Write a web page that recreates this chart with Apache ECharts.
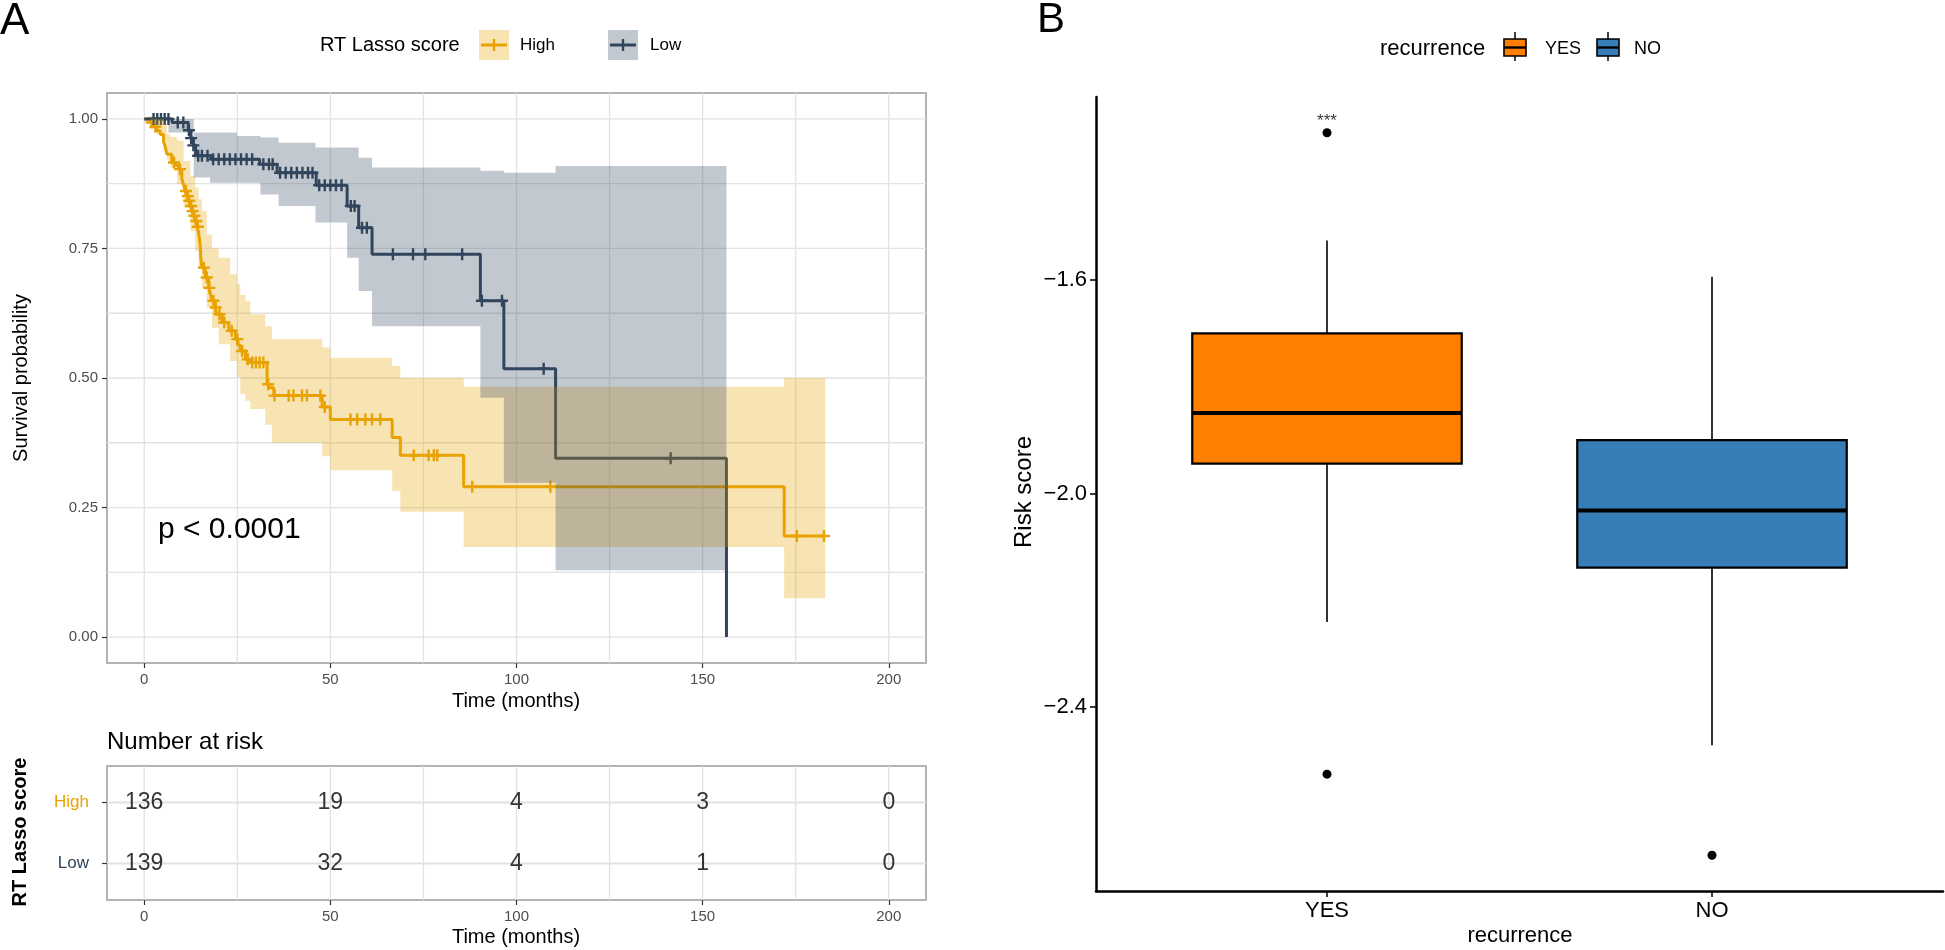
<!DOCTYPE html>
<html><head><meta charset="utf-8">
<script src="https://cdn.jsdelivr.net/npm/echarts@6/dist/echarts.min.js"></script>
<style>html,body{margin:0;padding:0;background:#fff}#c{width:1945px;height:950px}</style>
</head><body><div id="c"></div>
<script>
// ---------------- data ----------------
const timeTicks = [0, 50, 100, 150, 200];
const survTicks = [0, 0.25, 0.5, 0.75, 1];
const gridTimes = [0, 25, 50, 75, 100, 125, 150, 175, 200];
const gridSurv = [0, 0.125, 0.25, 0.375, 0.5, 0.625, 0.75, 0.875, 1];
const groupNames = ['High', 'Low'];

// Kaplan-Meier steps [time, survival]
const highCurve = [[0,1],[1.5,0.993],[2.5,0.985],[3.4,0.977],[4.3,0.970],[5.2,0.956],[5.7,0.945],[6.1,0.932],[7.4,0.916],[8.5,0.910],[9.2,0.903],[10.1,0.884],[10.6,0.872],[11.0,0.861],[11.5,0.851],[11.9,0.842],[12.4,0.832],[12.8,0.822],[13.3,0.813],[13.7,0.803],[14.2,0.792],[14.6,0.781],[15.0,0.758],[15.2,0.732],[15.5,0.713],[16.4,0.694],[17.3,0.674],[17.8,0.662],[18.2,0.649],[19.0,0.636],[19.5,0.623],[20.9,0.607],[22.7,0.591],[24.5,0.575],[25.2,0.563],[25.8,0.552],[27.2,0.536],[28.5,0.530],[33.0,0.488],[33.6,0.481],[34.8,0.466],[47.8,0.444],[50.0,0.420],[66.6,0.385],[68.8,0.351],[85.8,0.290],[171.9,0.195],[182.9,0.195]];
const lowCurve = [[0,1],[7.5,0.993],[11.8,0.978],[12.5,0.963],[13.2,0.949],[13.8,0.929],[18.0,0.922],[31.0,0.9125],[35.7,0.896],[46.2,0.872],[54.5,0.832],[57.6,0.790],[61.2,0.739],[90.3,0.649],[96.6,0.518],[110.5,0.345],[156.4,0]];

// censoring marks [time, survival]
const highCensor = [[2.0,0.993],[3.0,0.985],[8.0,0.916],[9.6,0.903],[11.2,0.861],[11.7,0.851],[12.1,0.842],[12.6,0.832],[13.0,0.822],[13.5,0.813],[14.0,0.803],[14.4,0.792],[16.0,0.713],[16.8,0.694],[17.5,0.674],[18.6,0.649],[19.2,0.636],[20.2,0.623],[21.5,0.607],[23.5,0.591],[25.0,0.575],[26.3,0.552],[27.8,0.536],[29.0,0.530],[30.0,0.530],[31.0,0.530],[32.0,0.530],[33.3,0.488],[35.0,0.466],[38.8,0.466],[40.1,0.466],[42.4,0.466],[43.7,0.466],[47.3,0.466],[48.5,0.444],[55.4,0.420],[57.2,0.420],[59.4,0.420],[61.2,0.420],[63.4,0.420],[72.4,0.351],[76.4,0.351],[77.8,0.351],[78.7,0.351],[88.1,0.290],[109.1,0.290],[175.3,0.195],[182.6,0.195]];
const lowCensor = [[2.5,1],[3.5,1],[4.5,1],[5.5,1],[6.5,1],[9.0,0.993],[10.5,0.993],[12.0,0.978],[12.6,0.963],[13.2,0.949],[14.5,0.929],[15.5,0.929],[17.0,0.929],[18.5,0.922],[20.0,0.922],[21.5,0.922],[23.0,0.922],[24.5,0.922],[26.0,0.922],[27.5,0.922],[29.0,0.922],[32.0,0.9125],[33.5,0.9125],[34.5,0.9125],[36.5,0.896],[38.0,0.896],[39.5,0.896],[41.0,0.896],[42.5,0.896],[44.0,0.896],[45.2,0.896],[47.0,0.872],[48.5,0.872],[50.0,0.872],[51.5,0.872],[53.0,0.872],[55.5,0.832],[56.5,0.832],[58.5,0.790],[59.8,0.790],[66.8,0.739],[72.2,0.739],[75.5,0.739],[85.4,0.739],[90.7,0.649],[96.1,0.649],[107.3,0.518],[141.4,0.345]];

// confidence bands [time, lower, upper] (step, last row = end)
const highBand = [[0,1,1],[1.6,0.985,1],[3.4,0.970,1],[5.2,0.938,0.99],[6.1,0.920,0.970],[7.0,0.906,0.965],[8.8,0.874,0.958],[10.6,0.829,0.919],[12.4,0.784,0.890],[13.7,0.745,0.867],[14.6,0.713,0.845],[15.5,0.674,0.822],[16.8,0.636,0.777],[18.2,0.597,0.750],[20.0,0.565,0.732],[23.1,0.533,0.700],[24.9,0.501,0.681],[25.8,0.469,0.660],[27.2,0.456,0.649],[28.5,0.440,0.623],[32.5,0.410,0.600],[34.3,0.375,0.575],[47.8,0.349,0.559],[50.0,0.322,0.539],[66.6,0.282,0.523],[68.8,0.242,0.500],[85.8,0.174,0.483],[171.9,0.075,0.500],[182.9,0.075,0.500]];
const lowBand = [[0,1,1],[6.5,0.974,1],[13.3,0.887,0.974],[17.7,0.877,0.974],[24.9,0.877,0.967],[31.2,0.854,0.964],[36.1,0.832,0.954],[46.0,0.800,0.945],[54.5,0.732,0.945],[57.6,0.668,0.925],[61.2,0.600,0.906],[90.3,0.462,0.900],[96.6,0.298,0.896],[110.5,0.129,0.909],[156.4,0.129,0.909]];

// number at risk
const riskTimes = [0, 50, 100, 150, 200];
const riskHigh = [136, 19, 4, 3, 0];
const riskLow = [139, 32, 4, 1, 0];
const riskRows = [1, 2]; // 1 = Low, 2 = High

// box plot (panel B)
const boxCats = ['YES', 'NO'];
const boxYes = [-2.241, -1.944, -1.849, -1.700, -1.526]; // min, Q1, median, Q3, max
const boxNo = [-2.472, -2.139, -2.032, -1.900, -1.594];
const outliers = [[1, -1.324], [1, -2.526], [2, -2.678]];
const signif = [[1, -1.302, '***']];
const riskScoreTicks = [-2.4, -2.0, -1.6];

// ---------------- style ----------------
const FONT = 'Liberation Sans, Arial, Helvetica, sans-serif';
const HIGH_C = '#E9A200';
const LOW_C = '#30455B';
const HIGH_FILL = 'rgba(232,162,2,0.3)';
const LOW_FILL = 'rgba(52,72,98,0.3)';
const BOX_C = ['#FF7F00', '#377EB8'];
const GRIDLINE = '#E2E2E2';
const PANEL_BORDER = '#B3B3B3';
const PLUS = 'path://M-1.2,-6H1.2V-1.2H6V1.2H1.2V6H-1.2V1.2H-6V-1.2H-1.2Z';

const bandData = { bandHigh: highBand, bandLow: lowBand };
function bandRender(color) {
  return function (params, api) {
    if (params.dataIndex !== 0) return null;
    const band = bandData[params.seriesName];
    const up = [], dn = [];
    for (let i = 0; i < band.length - 1; i++) {
      up.push(api.coord([band[i][0], band[i][2]]));
      up.push(api.coord([band[i + 1][0], band[i][2]]));
    }
    for (let i = band.length - 2; i >= 0; i--) {
      dn.push(api.coord([band[i + 1][0], band[i][1]]));
      dn.push(api.coord([band[i][0], band[i][1]]));
    }
    return { type: 'polygon', shape: { points: up.concat(dn) }, style: { fill: color } };
  };
}

function vLines(y0, y1, width) {
  return function (params, api) {
    const a = api.coord([api.value(0), y0]), b = api.coord([api.value(0), y1]);
    return { type: 'line', shape: { x1: a[0], y1: a[1], x2: b[0], y2: b[1] }, style: { stroke: GRIDLINE, lineWidth: width } };
  };
}
function hLines(x0, x1, width) {
  return function (params, api) {
    const a = api.coord([x0, api.value(1)]), b = api.coord([x1, api.value(1)]);
    return { type: 'line', shape: { x1: a[0], y1: a[1], x2: b[0], y2: b[1] }, style: { stroke: GRIDLINE, lineWidth: width } };
  };
}

function txt(text, x, y, size, opts) {
  opts = opts || {};
  return {
    type: 'text', x: x, y: y, rotation: opts.rot || 0, silent: true, z: 10,
    style: {
      text: text, fontSize: size, fontFamily: FONT, fill: opts.color || '#000',
      fontWeight: opts.bold ? 'bold' : 'normal',
      align: opts.align || 'left', textAlign: opts.align || 'left',
      verticalAlign: 'middle', textVerticalAlign: 'middle'
    }
  };
}

const chart = echarts.init(document.getElementById('c'), null, { renderer: 'canvas' });

const grids = [
  { left: 107, top: 93, width: 819, height: 570, show: true, borderColor: PANEL_BORDER, borderWidth: 2, backgroundColor: '#fff' },
  { left: 107, top: 766, width: 819, height: 134, show: true, borderColor: PANEL_BORDER, borderWidth: 2, backgroundColor: '#fff' },
  { left: 1096, top: 97, width: 847, height: 794, show: false }
];

const kmAxisX = (gi) => ({
  type: 'value', gridIndex: gi, min: -10, max: 210, position: 'bottom',
  axisLine: { show: false, onZero: false },
  axisTick: { show: true, customValues: timeTicks, length: 5, lineStyle: { color: '#333', width: 1.2 } },
  axisLabel: { customValues: timeTicks, fontSize: 15, color: '#4D4D4D', fontFamily: FONT, margin: 9 },
  splitLine: { show: false }
});

const option = {
  animation: false,
  textStyle: { fontFamily: FONT },
  grid: grids,
  xAxis: [
    kmAxisX(0),
    kmAxisX(1),
    {
      type: 'value', gridIndex: 2, min: 0.4, max: 2.6, position: 'bottom',
      axisLine: { show: true, onZero: false, lineStyle: { color: '#000', width: 2.5 } },
      axisTick: { show: true, customValues: [1, 2], length: 6, lineStyle: { color: '#000', width: 1.5 } },
      axisLabel: { customValues: [1, 2], formatter: v => boxCats[Math.round(v) - 1], fontSize: 22, color: '#000', fontFamily: FONT, margin: 9 },
      splitLine: { show: false }
    }
  ],
  yAxis: [
    {
      type: 'value', gridIndex: 0, min: -0.05, max: 1.05, position: 'left',
      axisLine: { show: false, onZero: false },
      axisTick: { show: true, customValues: survTicks, length: 5, lineStyle: { color: '#333', width: 1.2 } },
      axisLabel: { customValues: survTicks, formatter: v => Number(v).toFixed(2), fontSize: 15, color: '#4D4D4D', fontFamily: FONT, margin: 9 },
      splitLine: { show: false }
    },
    {
      type: 'value', gridIndex: 1, min: 0.4, max: 2.6, position: 'left',
      axisLine: { show: false, onZero: false },
      axisTick: { show: true, customValues: riskRows, length: 5, lineStyle: { color: '#333', width: 1.2 } },
      axisLabel: {
        customValues: riskRows, fontSize: 17, fontFamily: FONT, margin: 18,
        formatter: v => (Math.round(v) === 2 ? '{h|' + groupNames[0] + '}' : '{l|' + groupNames[1] + '}'),
        rich: { h: { color: HIGH_C, fontSize: 17, fontFamily: FONT }, l: { color: LOW_C, fontSize: 17, fontFamily: FONT } }
      },
      splitLine: { show: false }
    },
    {
      type: 'value', gridIndex: 2, min: -2.745, max: -1.257, position: 'left',
      axisLine: { show: true, onZero: false, lineStyle: { color: '#000', width: 2.5 } },
      axisTick: { show: true, customValues: riskScoreTicks, length: 6, lineStyle: { color: '#000', width: 1.5 } },
      axisLabel: { customValues: riskScoreTicks, formatter: v => Number(v).toFixed(1).replace('-', '\u2212'), fontSize: 22, color: '#000', fontFamily: FONT, margin: 9 },
      splitLine: { show: false }
    }
  ],
  series: [
    // panel A gridlines
    { type: 'custom', name: 'gx', xAxisIndex: 0, yAxisIndex: 0, z: 1, silent: true, renderItem: vLines(-0.05, 1.05, 1.3), data: gridTimes.map(t => [t, 0]) },
    { type: 'custom', name: 'gy', xAxisIndex: 0, yAxisIndex: 0, z: 1, silent: true, renderItem: hLines(-10, 210, 1.3), data: gridSurv.map(s => [0, s]) },
    // KM lines
    { type: 'line', name: 'High', xAxisIndex: 0, yAxisIndex: 0, z: 2, step: 'end', showSymbol: false, silent: true, lineStyle: { color: HIGH_C, width: 3 }, itemStyle: { color: HIGH_C }, data: highCurve },
    { type: 'line', name: 'Low', xAxisIndex: 0, yAxisIndex: 0, z: 2, step: 'end', showSymbol: false, silent: true, lineStyle: { color: LOW_C, width: 3 }, itemStyle: { color: LOW_C }, data: lowCurve },
    { type: 'scatter', name: 'cH', xAxisIndex: 0, yAxisIndex: 0, z: 2, silent: true, symbol: PLUS, symbolSize: 12, itemStyle: { color: HIGH_C, opacity: 1 }, data: highCensor },
    { type: 'scatter', name: 'cL', xAxisIndex: 0, yAxisIndex: 0, z: 2, silent: true, symbol: PLUS, symbolSize: 12, itemStyle: { color: LOW_C, opacity: 1 }, data: lowCensor },
    // confidence ribbons
    { type: 'custom', name: 'bandHigh', xAxisIndex: 0, yAxisIndex: 0, z: 3, silent: true, renderItem: bandRender(HIGH_FILL), data: highBand },
    { type: 'custom', name: 'bandLow', xAxisIndex: 0, yAxisIndex: 0, z: 3, silent: true, renderItem: bandRender(LOW_FILL), data: lowBand },
    // risk table gridlines
    { type: 'custom', name: 'tgx', xAxisIndex: 1, yAxisIndex: 1, z: 1, silent: true, renderItem: vLines(0.4, 2.6, 1.3), data: gridTimes.map(t => [t, 1]) },
    { type: 'custom', name: 'tgy', xAxisIndex: 1, yAxisIndex: 1, z: 1, silent: true, renderItem: hLines(-10, 210, 2), data: riskRows.map(r => [0, r]) },
    // risk numbers
    {
      type: 'scatter', name: 'riskH', xAxisIndex: 1, yAxisIndex: 1, z: 4, silent: true, symbolSize: 1, itemStyle: { color: 'rgba(0,0,0,0)' },
      label: { show: true, position: 'inside', formatter: p => String(p.value[2]), fontSize: 23, color: '#000', fontFamily: FONT },
      data: riskTimes.map((t, i) => [t, 2, riskHigh[i]])
    },
    {
      type: 'scatter', name: 'riskL', xAxisIndex: 1, yAxisIndex: 1, z: 4, silent: true, symbolSize: 1, itemStyle: { color: 'rgba(0,0,0,0)' },
      label: { show: true, position: 'inside', formatter: p => String(p.value[2]), fontSize: 23, color: '#000', fontFamily: FONT },
      data: riskTimes.map((t, i) => [t, 1, riskLow[i]])
    },
    // box plot
    {
      type: 'custom', name: 'box', xAxisIndex: 2, yAxisIndex: 2, z: 2, silent: true,
      data: [[1].concat(boxYes), [2].concat(boxNo)],
      renderItem: function (params, api) {
        const x = api.value(0);
        const mn = api.coord([x, api.value(1)]), q1 = api.coord([x, api.value(2)]), md = api.coord([x, api.value(3)]);
        const q3 = api.coord([x, api.value(4)]), mx = api.coord([x, api.value(5)]);
        const w = api.size([0.7, 0])[0];
        return {
          type: 'group', children: [
            { type: 'line', shape: { x1: mx[0], y1: mx[1], x2: q3[0], y2: q3[1] }, style: { stroke: '#000', lineWidth: 1.6 } },
            { type: 'line', shape: { x1: q1[0], y1: q1[1], x2: mn[0], y2: mn[1] }, style: { stroke: '#000', lineWidth: 1.6 } },
            { type: 'rect', shape: { x: q3[0] - w / 2, y: q3[1], width: w, height: q1[1] - q3[1] }, style: { fill: BOX_C[params.dataIndex], stroke: '#000', lineWidth: 2.2 } },
            { type: 'line', shape: { x1: md[0] - w / 2, y1: md[1], x2: md[0] + w / 2, y2: md[1] }, style: { stroke: '#000', lineWidth: 4 } }
          ]
        };
      }
    },
    { type: 'scatter', name: 'out', xAxisIndex: 2, yAxisIndex: 2, z: 3, silent: true, symbol: 'circle', symbolSize: 9, itemStyle: { color: '#000', opacity: 1 }, data: outliers },
    {
      type: 'scatter', name: 'sig', xAxisIndex: 2, yAxisIndex: 2, z: 3, silent: true, symbolSize: 1, itemStyle: { color: 'rgba(0,0,0,0)' },
      label: { show: true, position: 'inside', formatter: p => p.value[2], fontSize: 17, color: '#000', fontFamily: FONT },
      data: signif
    }
  ],
  graphic: [
    txt('A', 0, 22, 44),
    txt('B', 1037, 20, 42),
    // legend A
    txt('RT Lasso score', 320, 45, 20),
    { type: 'rect', shape: { x: 479, y: 30, width: 30, height: 30 }, style: { fill: HIGH_FILL } },
    { type: 'line', shape: { x1: 481, y1: 45, x2: 507, y2: 45 }, style: { stroke: HIGH_C, lineWidth: 3 } },
    { type: 'line', shape: { x1: 494, y1: 39, x2: 494, y2: 51 }, style: { stroke: HIGH_C, lineWidth: 2.4 } },
    txt('High', 520, 45, 17),
    { type: 'rect', shape: { x: 608, y: 30, width: 30, height: 30 }, style: { fill: LOW_FILL } },
    { type: 'line', shape: { x1: 610, y1: 45, x2: 636, y2: 45 }, style: { stroke: LOW_C, lineWidth: 3 } },
    { type: 'line', shape: { x1: 623, y1: 39, x2: 623, y2: 51 }, style: { stroke: LOW_C, lineWidth: 2.4 } },
    txt('Low', 650, 45, 17),
    // axis titles A
    txt('Survival probability', 21, 378, 20, { rot: Math.PI / 2, align: 'center' }),
    txt('Time (months)', 516, 701, 20, { align: 'center' }),
    txt('p < 0.0001', 158, 530, 30),
    txt('Number at risk', 107, 742, 24),
    txt('RT Lasso score', 20, 832, 20, { rot: Math.PI / 2, align: 'center', bold: true }),
    txt('Time (months)', 516, 937, 20, { align: 'center' }),
    // legend B
    txt('recurrence', 1380, 49, 22),
    { type: 'line', shape: { x1: 1515, y1: 32, x2: 1515, y2: 61 }, style: { stroke: '#000', lineWidth: 1.5 } },
    { type: 'rect', shape: { x: 1504, y: 39, width: 22, height: 17 }, style: { fill: BOX_C[0], stroke: '#000', lineWidth: 1.6 } },
    { type: 'line', shape: { x1: 1504, y1: 47.5, x2: 1526, y2: 47.5 }, style: { stroke: '#000', lineWidth: 2.4 } },
    txt('YES', 1545, 49, 18),
    { type: 'line', shape: { x1: 1608, y1: 32, x2: 1608, y2: 61 }, style: { stroke: '#000', lineWidth: 1.5 } },
    { type: 'rect', shape: { x: 1597, y: 39, width: 22, height: 17 }, style: { fill: BOX_C[1], stroke: '#000', lineWidth: 1.6 } },
    { type: 'line', shape: { x1: 1597, y1: 47.5, x2: 1619, y2: 47.5 }, style: { stroke: '#000', lineWidth: 2.4 } },
    txt('NO', 1634, 49, 18),
    // axis titles B
    txt('Risk score', 1024, 492, 24, { rot: Math.PI / 2, align: 'center' }),
    txt('recurrence', 1520, 936, 22, { align: 'center' })
  ]
};
chart.setOption(option);
</script>
</body></html>
